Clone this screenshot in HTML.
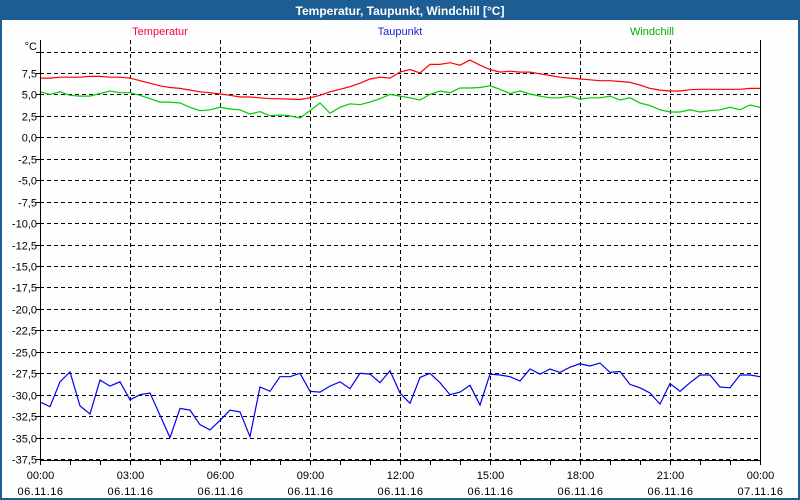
<!DOCTYPE html>
<html><head><meta charset="utf-8"><style>
html,body{margin:0;padding:0;background:#fff;}
svg{display:block;font-family:"Liberation Sans","DejaVu Sans",sans-serif;}
</style></head><body>
<svg id="chart" width="800" height="500" viewBox="0 0 800 500">
<rect x="0" y="0" width="800" height="500" fill="#1c5d93"/>
<rect x="2" y="20" width="796" height="478" fill="#fefefe"/>
<text x="400" y="15" text-anchor="middle" fill="#fff" font-size="12" font-weight="bold">Temperatur, Taupunkt, Windchill [°C]</text>
<text x="160" y="35" text-anchor="middle" fill="#ff0040" font-size="11">Temperatur</text>
<text x="400" y="35" text-anchor="middle" fill="#2020d0" font-size="11">Taupunkt</text>
<text x="652" y="35" text-anchor="middle" fill="#00b000" font-size="11">Windchill</text>
<text x="37" y="50" text-anchor="end" fill="#000" font-size="11">°C</text>
<g id="grid"></g><g id="series"></g><g id="axes"></g>
</svg>
<script>
const yTicks=[10,7.5,5,2.5,0,-2.5,-5,-7.5,-10,-12.5,-15,-17.5,-20,-22.5,-25,-27.5,-30,-32.5,-35,-37.5];
const xTickHours=[0,3,6,9,12,15,18,21,24];
const xTimeLabels=["00:00","03:00","06:00","09:00","12:00","15:00","18:00","21:00","00:00"];
const xDateLabels=["06.11.16","06.11.16","06.11.16","06.11.16","06.11.16","06.11.16","06.11.16","06.11.16","07.11.16"];
const sampleMinutes=20;
const temperatur=[6.9,6.9,7.0,7.0,7.0,7.1,7.1,7.0,7.0,6.9,6.6,6.3,6.0,5.8,5.7,5.5,5.3,5.2,5.05,4.9,4.7,4.7,4.6,4.5,4.5,4.45,4.4,4.6,4.9,5.3,5.6,5.9,6.3,6.8,7.0,6.9,7.6,7.9,7.5,8.5,8.5,8.7,8.4,9.0,8.4,7.9,7.6,7.7,7.6,7.6,7.4,7.2,7.0,6.9,6.8,6.7,6.6,6.6,6.5,6.4,6.1,5.7,5.5,5.4,5.4,5.55,5.6,5.6,5.6,5.6,5.6,5.7,5.7];
const windchill=[5.3,5.0,5.3,4.9,4.8,4.8,5.1,5.4,5.2,5.2,4.9,4.5,4.1,4.1,4.0,3.5,3.1,3.2,3.5,3.3,3.2,2.7,3.0,2.5,2.6,2.5,2.25,3.1,4.0,2.8,3.5,3.9,3.8,4.1,4.5,5.0,4.8,4.6,4.35,5.0,5.4,5.2,5.75,5.75,5.8,6.0,5.6,5.1,5.4,5.05,4.8,4.6,4.6,4.8,4.45,4.6,4.6,4.8,4.35,4.6,4.0,3.7,3.2,2.95,2.95,3.2,2.95,3.1,3.2,3.5,3.2,3.76,3.5];
const taupunkt=[-30.85,-31.4,-28.5,-27.35,-31.3,-32.25,-28.3,-29.0,-28.5,-30.6,-30.0,-29.8,-32.4,-35.0,-31.6,-31.8,-33.5,-34.1,-33.0,-31.8,-32.0,-34.9,-29.1,-29.6,-27.9,-27.9,-27.5,-29.6,-29.7,-29.0,-28.5,-29.3,-27.5,-27.6,-28.6,-27.2,-29.8,-31.0,-28.0,-27.5,-28.6,-30.0,-29.7,-28.9,-31.2,-27.6,-27.7,-27.9,-28.4,-27.0,-27.6,-27.0,-27.4,-26.8,-26.4,-26.65,-26.3,-27.4,-27.3,-28.8,-29.2,-29.8,-31.1,-28.7,-29.6,-28.6,-27.7,-27.7,-29.1,-29.2,-27.7,-27.7,-27.9];
const NS='http://www.w3.org/2000/svg';
const X0=40,X1=760,YTOP=40,YBOT=460;
function xScale(h){return X0+(h/24)*(X1-X0);}
function yScale(v){return 51.5+(10-v)*8.58;}
function mk(tag,attrs,parent){const e=document.createElementNS(NS,tag);for(const k in attrs)e.setAttribute(k,attrs[k]);parent.appendChild(e);return e;}
const grid=document.getElementById('grid'),axes=document.getElementById('axes'),series=document.getElementById('series');
yTicks.forEach(v=>{const y=Math.round(yScale(v))+0.5;
 const l=mk('line',{x1:X0,x2:X1,y1:y,y2:y,stroke:'#000','stroke-dasharray':'4,3','stroke-width':1},grid);
 
 
 if(v!==10){const t=mk('text',{x:37,y:y+4,'text-anchor':'end','font-size':11,fill:'#000'},axes);
  t.textContent=v.toFixed(1).replace('.',',');
  
  }
 const tk=mk('line',{x1:X0-4,x2:X0,y1:y,y2:y,stroke:'#000'},axes);
 
 
});
xTickHours.forEach((h,i)=>{const x=Math.round(xScale(h))+0.5;
 if(h>0&&h<24){const l=mk('line',{x1:x,x2:x,y1:YTOP,y2:YBOT,stroke:'#000','stroke-dasharray':'4,3'},grid);
  
  }
 const t1=mk('text',{x:x,y:479,'text-anchor':'middle','font-size':11,fill:'#000'},axes);t1.textContent=xTimeLabels[i];
 
 
 const t2=mk('text',{x:x,y:495,'text-anchor':'middle','font-size':11,fill:'#000','letter-spacing':'0.5'},axes);t2.textContent=xDateLabels[i];
 
 
});
for(let h=0;h<=24;h++){const x=Math.round(xScale(h))+0.5;
 const tk=mk('line',{x1:x,x2:x,y1:YBOT,y2:YBOT+5,stroke:'#000'},axes);
 
 }
[[X0+0.5,YTOP,X0+0.5,YBOT+0.5],[X0,YBOT+0.5,X1+1,YBOT+0.5],[X1+0.5,YTOP,X1+0.5,YBOT+0.5]].forEach((c,i)=>{
 const l=mk('line',{x1:c[0],y1:c[1],x2:c[2],y2:c[3],stroke:'#000'},axes);
 
 });
function drawLine(arr,color,name){
 const pts=arr.map((v,i)=>xScale(i*sampleMinutes/60).toFixed(1)+','+yScale(v).toFixed(1)).join(' ');
 const p=mk('polyline',{points:pts,fill:'none',stroke:color,'stroke-width':1.2},series);
 
 }
drawLine(windchill,'#00cc00','windchill-line');
drawLine(temperatur,'#ff0000','temperatur-line');
drawLine(taupunkt,'#0000ee','taupunkt-line');
</script>
</body></html>
